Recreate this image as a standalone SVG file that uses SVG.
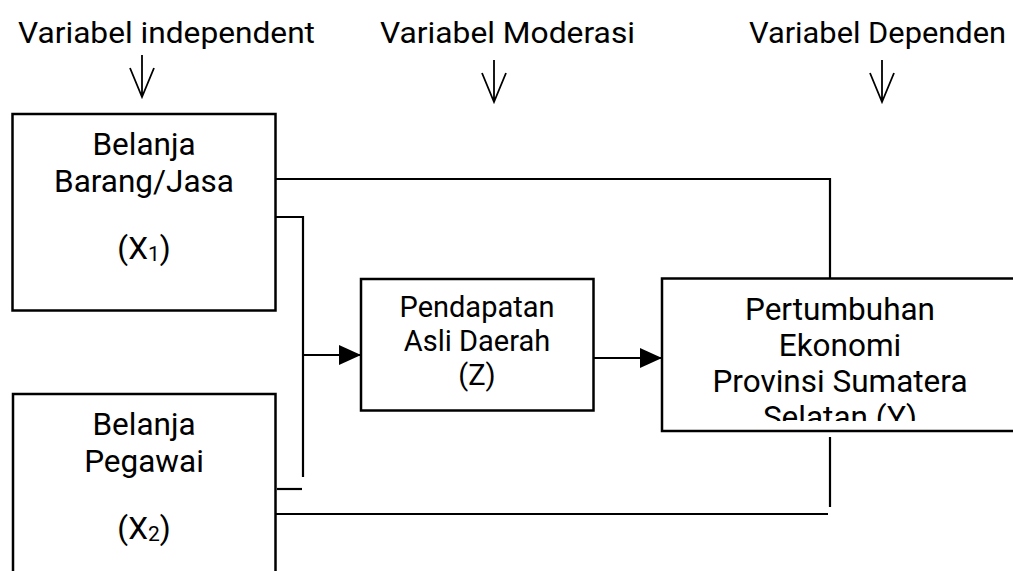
<svg xmlns="http://www.w3.org/2000/svg" width="1013" height="571" viewBox="0 0 1013 571">
<style>
text{font-family:Roboto,"Liberation Sans",sans-serif;fill:#000;}
.h{font-size:29px;}
.t{font-size:31.5px;text-anchor:middle;}
.z{font-size:29px;text-anchor:middle;}
.box{fill:#fff;stroke:#000;stroke-width:2.5;}
.ln{fill:none;stroke:#000;stroke-width:2.2;}
.ar{fill:none;stroke:#000;stroke-width:1.8;}
.sub{font-size:21px;}
</style>
<defs>
<marker id="tri" viewBox="0 0 22 20" refX="22" refY="10" markerWidth="22" markerHeight="20" markerUnits="userSpaceOnUse" orient="auto">
<path d="M0,0 L22,10 L0,20 Z" fill="#000"/>
</marker>
<clipPath id="clipY"><rect x="662" y="279" width="360" height="142"/></clipPath>
</defs>
<g id="headers">
<text class="h" x="18" y="42.5" textLength="297" lengthAdjust="spacingAndGlyphs">Variabel independent</text>
<text class="h" x="380" y="42.5" textLength="255" lengthAdjust="spacingAndGlyphs">Variabel Moderasi</text>
<text class="h" x="749" y="42.5" textLength="257" lengthAdjust="spacingAndGlyphs">Variabel Dependen</text>
<path class="ar" d="M142,55 V97 M130,68 L142,97 L154,68"/>
<path class="ar" d="M494,60 V102 M482,73 L494,102 L506,73"/>
<path class="ar" d="M882,60 V102 M870,73 L882,102 L894,73"/>
</g>
<g id="connectors">
<path class="ln" d="M276,179 H830 V278"/>
<path class="ln" d="M276,217 H303 V477"/>
<path class="ln" d="M277,489 H302"/>
<path class="ln" d="M276,514 H828"/>
<path class="ln" d="M830,437 V507"/>
<path class="ln" d="M303,355 H361" marker-end="url(#tri)"/>
<path class="ln" d="M594,358 H662" marker-end="url(#tri)"/>
</g>
<g id="node-x1">
<rect class="box" x="12.5" y="114" width="263" height="196.5"/>
<text class="t" x="144" y="155">Belanja</text>
<text class="t" x="144" y="191.5">Barang/Jasa</text>
<text class="t" x="144" y="259">(X<tspan class="sub" dy="2">1</tspan><tspan dy="-2">)</tspan></text>
</g>
<g id="node-x2">
<rect class="box" x="13" y="394" width="262.5" height="200"/>
<text class="t" x="144" y="435">Belanja</text>
<text class="t" x="144" y="471.5">Pegawai</text>
<text class="t" x="144" y="539">(X<tspan class="sub" dy="2">2</tspan><tspan dy="-2">)</tspan></text>
</g>
<g id="node-z">
<rect class="box" x="361" y="279" width="232.5" height="131.5"/>
<text class="z" x="477" y="316.5">Pendapatan</text>
<text class="z" x="477" y="351">Asli Daerah</text>
<text class="z" x="477" y="385">(Z)</text>
</g>
<g id="node-y">
<rect class="box" x="662" y="278.5" width="380" height="152.5"/>
<g clip-path="url(#clipY)">
<text class="t" x="840" y="319.5">Pertumbuhan</text>
<text class="t" x="840" y="355.5">Ekonomi</text>
<text class="t" x="840" y="391.5">Provinsi Sumatera</text>
<text class="t" x="840" y="427.5">Selatan (Y)</text>
</g>
</g>
</svg>
